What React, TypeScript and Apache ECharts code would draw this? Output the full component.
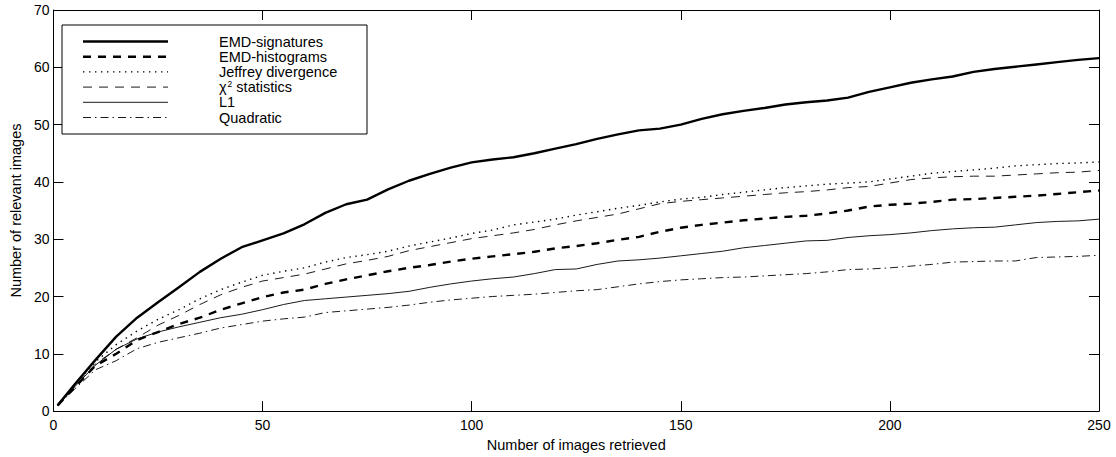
import React, { useEffect, useRef } from "react";
import * as echarts from "echarts";

const X = [1, 5, 10, 15, 20, 25, 30, 35, 40, 45, 50, 55, 60, 65, 70, 75, 80, 85, 90, 95, 100, 105, 110, 115, 120, 125, 130, 135, 140, 145, 150, 155, 160, 165, 170, 175, 180, 185, 190, 195, 200, 205, 210, 215, 220, 225, 230, 235, 240, 245, 250];

const emdSignatures = [1, 4.6, 8.9, 13.0, 16.3, 19.0, 21.6, 24.3, 26.6, 28.6, 29.8, 31.0, 32.6, 34.6, 36.1, 36.9, 38.7, 40.2, 41.4, 42.5, 43.4, 43.9, 44.3, 45.0, 45.8, 46.6, 47.5, 48.3, 49.0, 49.3, 50.0, 51.0, 51.8, 52.4, 52.9, 53.5, 53.9, 54.2, 54.7, 55.7, 56.5, 57.3, 57.9, 58.4, 59.2, 59.7, 60.1, 60.5, 60.9, 61.3, 61.6];
const emdHistograms = [1, 4.1, 7.9, 10.0, 12.4, 13.8, 15.2, 16.3, 17.7, 18.8, 19.9, 20.7, 21.2, 22.2, 23.0, 23.7, 24.4, 25.0, 25.5, 26.1, 26.6, 27.0, 27.4, 27.8, 28.4, 28.8, 29.3, 29.9, 30.4, 31.3, 32.0, 32.5, 32.9, 33.3, 33.6, 33.9, 34.1, 34.5, 35.0, 35.7, 36.0, 36.2, 36.5, 36.9, 37.0, 37.2, 37.4, 37.6, 37.9, 38.2, 38.5];
const jeffrey = [1, 4.4, 8.6, 11.6, 14.0, 16.0, 17.7, 19.6, 21.2, 22.5, 23.7, 24.4, 25.0, 26.0, 26.8, 27.3, 27.9, 28.8, 29.5, 30.2, 31.0, 31.6, 32.5, 33.0, 33.5, 34.2, 34.8, 35.4, 35.9, 36.5, 37.0, 37.3, 37.8, 38.2, 38.6, 39.0, 39.3, 39.6, 39.8, 40.0, 40.5, 41.0, 41.5, 41.8, 42.1, 42.4, 42.8, 43.0, 43.2, 43.3, 43.5];
const chi2 = [1, 4.2, 8.2, 10.8, 12.8, 15.0, 16.7, 18.6, 20.3, 21.6, 22.7, 23.3, 23.9, 24.8, 25.7, 26.3, 27.0, 28.0, 28.7, 29.4, 30.1, 30.6, 31.1, 31.7, 32.5, 33.2, 33.8, 34.4, 35.3, 36.2, 36.6, 36.9, 37.2, 37.5, 37.8, 38.1, 38.3, 38.6, 39.0, 39.2, 39.8, 40.4, 40.7, 40.9, 41.0, 41.0, 41.2, 41.4, 41.6, 41.7, 42.0];
const l1 = [1, 4.2, 8.0, 10.8, 12.6, 13.8, 14.7, 15.5, 16.3, 16.9, 17.7, 18.6, 19.3, 19.6, 19.9, 20.2, 20.5, 20.9, 21.6, 22.2, 22.7, 23.1, 23.4, 24.0, 24.7, 24.8, 25.6, 26.2, 26.4, 26.7, 27.1, 27.5, 27.9, 28.5, 28.9, 29.3, 29.7, 29.8, 30.3, 30.6, 30.8, 31.1, 31.5, 31.8, 32.0, 32.1, 32.5, 32.9, 33.1, 33.2, 33.5];
const quadratic = [1, 3.8, 7.2, 8.8, 10.9, 12.0, 12.8, 13.6, 14.5, 15.1, 15.7, 16.1, 16.4, 17.2, 17.5, 17.8, 18.1, 18.5, 19.0, 19.4, 19.7, 20.0, 20.2, 20.4, 20.7, 21.0, 21.2, 21.7, 22.2, 22.6, 22.9, 23.1, 23.3, 23.4, 23.6, 23.8, 24.0, 24.3, 24.7, 24.8, 25.0, 25.3, 25.6, 26.0, 26.1, 26.2, 26.2, 26.8, 26.9, 27.0, 27.2];

const legendNames = ["EMD-signatures", "EMD-histograms", "Jeffrey divergence", "χ2 statistics", "L1", "Quadratic"];
const xTitle = "Number of images retrieved";
const yTitle = "Number of relevant images";

const FONT = "'Liberation Sans', Arial, Helvetica, sans-serif";
const FS = 14.5;

const styles = [
  { width: 2.4, type: "solid" as any },
  { width: 2.4, type: [8, 7] as any },
  { width: 1.4, type: [1.4, 4.6] as any },
  { width: 0.9, type: [9, 7] as any },
  { width: 0.9, type: "solid" as any },
  { width: 0.9, type: [8, 4, 1.5, 4] as any },
];
const seriesData = [emdSignatures, emdHistograms, jeffrey, chi2, l1, quadratic];

export default function App() {
  const ref = useRef<HTMLDivElement>(null);
  useEffect(() => {
    if (!ref.current) return;
    const chart = echarts.init(ref.current, null, { renderer: "svg" });
    const axisCommon = {
      type: "value" as const,
      axisLine: { show: true, onZero: false, lineStyle: { color: "#000", width: 1 } },
      axisTick: { show: true, inside: true, length: 10, lineStyle: { color: "#000", width: 1 } },
      splitLine: { show: false },
    };
    const legendTop = 41.5;
    const step = 15.2;
    const graphics: any[] = [
      {
        type: "rect",
        shape: { x: 62, y: 25, width: 305, height: 109 },
        style: { fill: "#fff", stroke: "#000", lineWidth: 1 },
        z: 100,
      },
    ];
    styles.forEach((s, i) => {
      const y = legendTop + step * i;
      graphics.push({
        type: "line",
        shape: { x1: 83, y1: y, x2: 168, y2: y },
        style: {
          stroke: "#000",
          lineWidth: s.width,
          lineDash: typeof s.type === "string" ? null : s.type,
        },
        z: 101,
      });
      if (i === 3) {
        graphics.push({
          type: "text",
          x: 219,
          y: y,
          style: {
            text: "{c|χ}{s|2}{c| statistics}",
            fill: "#000",
            verticalAlign: "middle",
            rich: {
              c: { fontSize: FS, fontFamily: FONT, fill: "#000", lineHeight: FS },
              s: { fontSize: 8.5, fontFamily: FONT, fill: "#000", verticalAlign: "top", padding: [0, 0, 0, 1] },
            },
          },
          z: 101,
        });
      } else {
        graphics.push({
          type: "text",
          x: 219,
          y: y,
          style: { text: legendNames[i], font: `${FS}px ${FONT}`, fill: "#000", verticalAlign: "middle" },
          z: 101,
        });
      }
    });

    chart.setOption({
      animation: false,
      backgroundColor: "#fff",
      textStyle: { fontFamily: FONT },
      grid: { left: 47, right: 17, top: 10, bottom: 45, containLabel: false },
      xAxis: [
        {
          ...axisCommon,
          position: "bottom",
          min: 0,
          max: 250,
          interval: 50,
          axisLabel: { color: "#000", fontSize: 14, margin: 7, fontFamily: FONT },
          name: xTitle,
          nameLocation: "middle",
          nameGap: 22,
          nameTextStyle: { color: "#000", fontSize: FS, fontFamily: FONT },
        },
        {
          ...axisCommon,
          position: "top",
          min: 0,
          max: 250,
          interval: 50,
          axisLabel: { show: false },
        },
      ],
      yAxis: [
        {
          ...axisCommon,
          position: "left",
          min: 0,
          max: 70,
          interval: 10,
          axisLabel: { color: "#000", fontSize: 14, margin: 4, fontFamily: FONT },
          name: yTitle,
          nameLocation: "middle",
          nameGap: 26,
          nameTextStyle: { color: "#000", fontSize: FS, fontFamily: FONT },
        },
        {
          ...axisCommon,
          position: "right",
          min: 0,
          max: 70,
          interval: 10,
          axisLabel: { show: false },
        },
      ],
      series: seriesData.map((d, i) => ({
        name: legendNames[i],
        type: "line",
        showSymbol: false,
        symbol: "none",
        data: X.map((x, j) => [x, d[j]]),
        lineStyle: { color: "#000", width: styles[i].width, type: styles[i].type },
        xAxisIndex: 0,
        yAxisIndex: 0,
      })),
      graphic: graphics,
    });
    return () => chart.dispose();
  }, []);
  return (
    <div
      ref={ref}
      style={{ position: "fixed", left: 0, top: 0, width: 1116, height: 457, background: "#fff" }}
    />
  );
}
